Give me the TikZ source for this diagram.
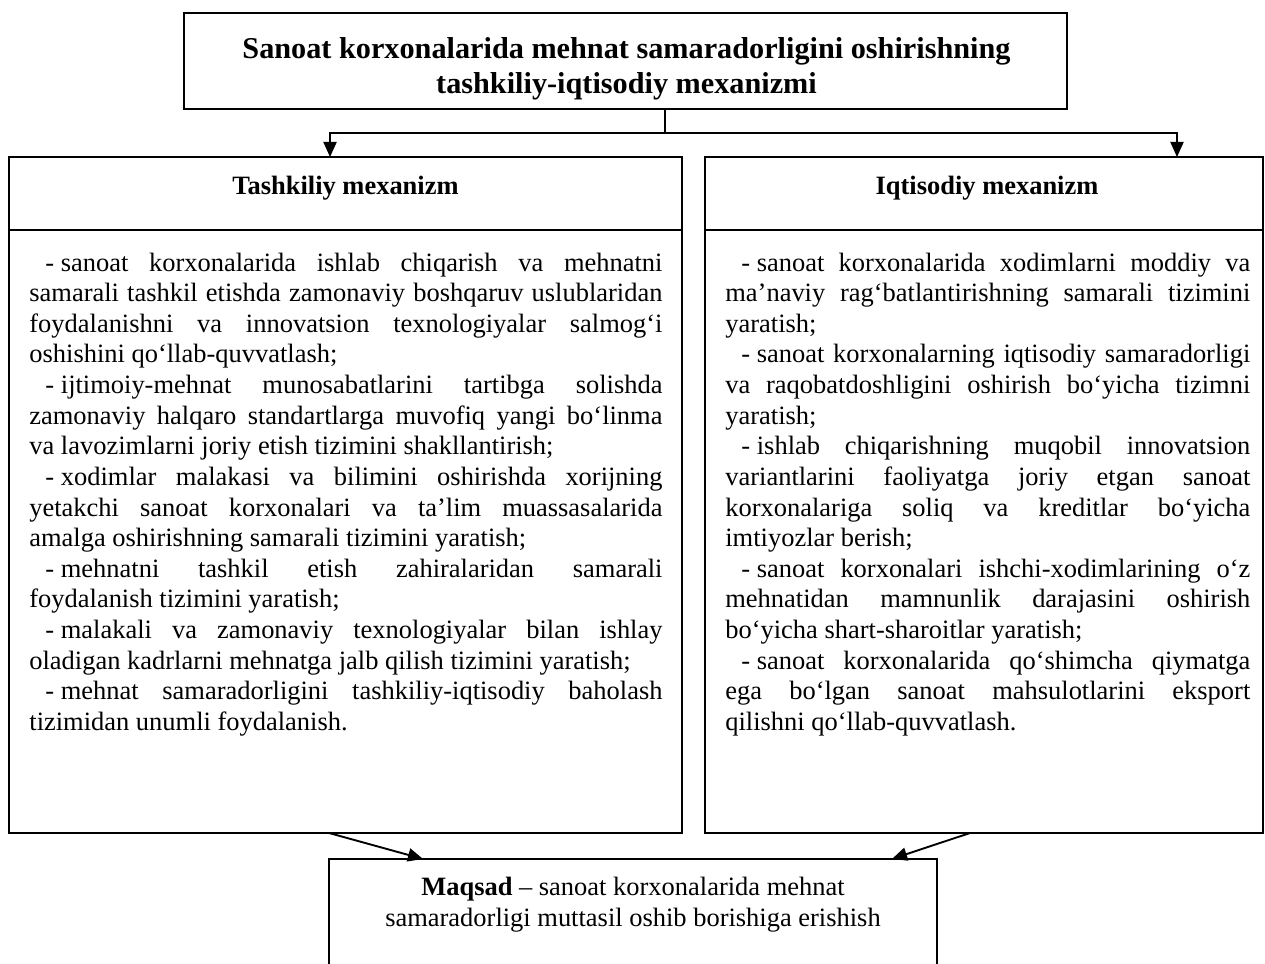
\documentclass[tikz,border=0pt]{standalone}
\usepackage{fontspec}
\setmainfont{Liberation Serif}
\usetikzlibrary{positioning,arrows.meta,calc}

\newcommand{\bodyfont}{\fontsize{14}{16.2}\selectfont}
\newcommand{\titlefont}{\fontsize{16}{18.4}\selectfont\bfseries}
\newcommand{\itm}{\par\hspace*{8.5pt}-\hspace{0.25em}}
\hyphenpenalty=10000
\exhyphenpenalty=10000
\tolerance=10000

\begin{document}
\begin{tikzpicture}[
        x=0.529pt, y=-0.529pt,
        panel/.style={
            rectangle,
            draw,
            line width=0.8pt,
            inner sep=0pt,
            outer sep=0pt
        },
        headtext/.style={
            font=\titlefont,
            align=center,
            inner sep=0pt
        },
        colhead/.style={
            font=\bodyfont\bfseries,
            inner sep=0pt
        },
        bodytext/.style={
            font=\bodyfont,
            align=justify,
            inner sep=0pt,
            anchor=north west
        },
        arrow/.style={
            -{Triangle[length=8pt,width=7pt]},
            line width=0.8pt
        }
    ]
    \useasboundingbox (0,0) rectangle (1265,963);

    % Top box
    \node[panel, minimum width=467.1pt, minimum height=50.8pt] (title) at (625.5,61) {};
    \node[headtext] (titletext) at ($(title.center)+(1,8)$)
        {Sanoat korxonalarida mehnat samaradorligini oshirishning\\tashkiliy-iqtisodiy mexanizmi};

    % Two mechanism boxes
    \node[panel, minimum width=356.0pt, minimum height=357.6pt] (org) at (345.5,495) {};
    \node[panel, minimum width=295.2pt, minimum height=357.6pt] (econ) at (984,495) {};
    \draw[line width=0.8pt] ($(org.north west)+(0,73)$) -- ($(org.north east)+(0,73)$);
    \draw[line width=0.8pt] ($(econ.north west)+(0,73)$) -- ($(econ.north east)+(0,73)$);
    \node[colhead] (orghead) at ($(org.north)+(0,31)$) {Tashkiliy mexanizm};
    \node[colhead] (econhead) at ($(econ.north)+(3,31)$) {Iqtisodiy mexanizm};

    % Organisational measures
    \node[bodytext, text width=334.9pt] (orgtext) at ($(org.north west)+(20,83)$) {\parindent=0pt
        \itm sanoat korxonalarida ishlab chiqarish va mehnatni\linebreak
        samarali tashkil etishda zamonaviy boshqaruv uslublaridan\linebreak
        foydalanishni va innovatsion texnologiyalar salmog‘i\linebreak
        oshishini qo‘llab-quvvatlash;
        \itm ijtimoiy-mehnat munosabatlarini tartibga solishda\linebreak
        zamonaviy halqaro standartlarga muvofiq yangi bo‘linma\linebreak
        va lavozimlarni joriy etish tizimini shakllantirish;
        \itm xodimlar malakasi va bilimini oshirishda xorijning\linebreak
        yetakchi sanoat korxonalari va ta’lim muassasalarida\linebreak
        amalga oshirishning samarali tizimini yaratish;
        \itm mehnatni tashkil etish zahiralaridan samarali\linebreak
        foydalanish tizimini yaratish;
        \itm malakali va zamonaviy texnologiyalar bilan ishlay\linebreak
        oladigan kadrlarni mehnatga jalb qilish tizimini yaratish;
        \itm mehnat samaradorligini tashkiliy-iqtisodiy baholash\linebreak
        tizimidan unumli foydalanish.};

    % Economic measures
    \node[bodytext, text width=277.7pt] (econtext) at ($(econ.north west)+(20,83)$) {\parindent=0pt
        \itm sanoat korxonalarida xodimlarni moddiy va\linebreak
        ma’naviy rag‘batlantirishning samarali tizimini\linebreak
        yaratish;
        \itm sanoat korxonalarning iqtisodiy samaradorligi\linebreak
        va raqobatdoshligini oshirish bo‘yicha tizimni\linebreak
        yaratish;
        \itm ishlab chiqarishning muqobil innovatsion\linebreak
        variantlarini faoliyatga joriy etgan sanoat\linebreak
        korxonalariga soliq va kreditlar bo‘yicha\linebreak
        imtiyozlar berish;
        \itm sanoat korxonalari ishchi-xodimlarining o‘z\linebreak
        mehnatidan mamnunlik darajasini oshirish\linebreak
        bo‘yicha shart-sharoitlar yaratish;
        \itm sanoat korxonalarida qo‘shimcha qiymatga\linebreak
        ega bo‘lgan sanoat mahsulotlarini eksport\linebreak
        qilishni qo‘llab-quvvatlash.};

    % Goal box
    \node[panel, minimum width=321.6pt, minimum height=74.1pt] (goal) at (633,929) {};
    \node[font=\bodyfont, align=center, inner sep=0pt] (goaltext) at ($(goal.north)+(0,46)$)
        {\textbf{Maqsad} – sanoat korxonalarida mehnat\\samaradorligi muttasil oshib borishiga erishish};

    % Connections
    \coordinate (stem) at ($(title.south west)+(481,0)$);
    \coordinate (fork) at ($(stem)+(0,24)$);
    \coordinate (orgin) at ($(org.north west)+(321,0)$);
    \coordinate (econin) at ($(econ.north west)+(472,0)$);
    \draw[line width=0.8pt] (stem) -- (fork);
    \draw[arrow] (fork) -| (orgin);
    \draw[arrow] (fork) -| (econin);

    \coordinate (orgout) at ($(org.south west)+(320,0)$);
    \coordinate (econout) at ($(econ.south west)+(265,0)$);
    \coordinate (goalinl) at ($(goal.north west)+(94,0)$);
    \coordinate (goalinr) at ($(goal.north east)+(-45,0)$);
    \draw[arrow, line width=1pt] (orgout) -- (goalinl);
    \draw[arrow, line width=1pt] (econout) -- (goalinr);

\end{tikzpicture}
\end{document}
